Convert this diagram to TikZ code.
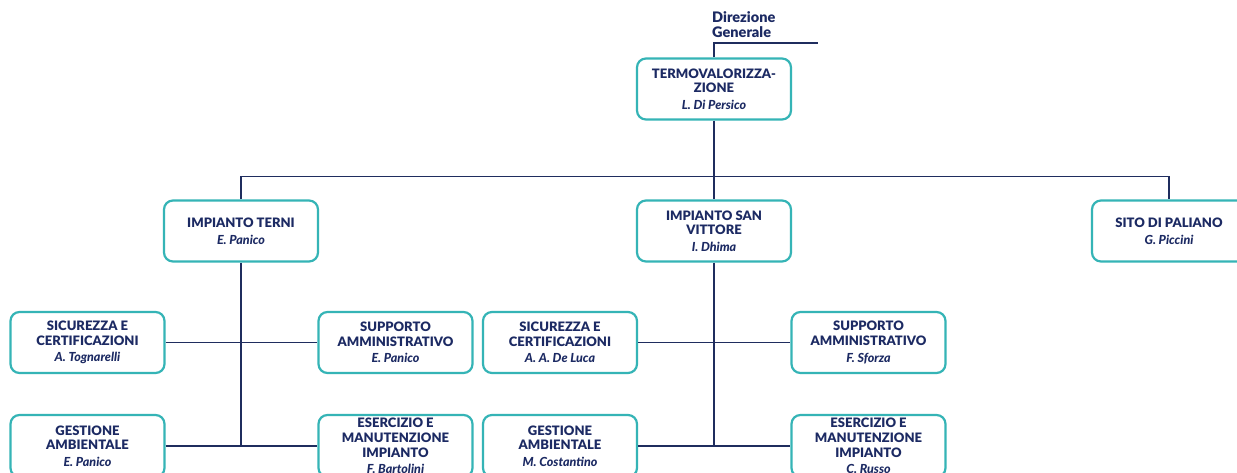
\documentclass[tikz,border=0pt]{standalone}
\usepackage{fontspec}
\setmainfont{Lato}[BoldFont={Lato Black}, BoldItalicFont={Lato Black Italic}]
\definecolor{boxteal}{HTML}{35B4B6}
\definecolor{navy}{HTML}{1C2A63}
\definecolor{wire}{HTML}{1F2D5E}
\tikzset{
  unit/.style={draw=boxteal, line width=2.2pt, rounded corners=9pt, fill=white,
    minimum width=154pt, minimum height=61pt, inner sep=2pt,
    text=navy, align=center, font=\fontsize{13}{14.6}\selectfont\bfseries},
  wireline/.style={draw=wire, line width=1.6pt},
}
\newcommand{\who}[1]{\\[2pt]{\fontsize{12.5}{13}\selectfont\bfseries\itshape #1}}
\begin{document}
\begin{tikzpicture}[x=1pt,y=-1pt]
  \path[use as bounding box, clip] (0,0) rectangle (1237,473);
  \fill[white] (0,0) rectangle (1237,473);

  % top level
  \node[text=navy, font=\fontsize{14.5}{15}\selectfont\bfseries, align=left, anchor=north west, inner sep=0pt]
    (dg) at (712,11) {Direzione\\Generale};
  \coordinate (dgend) at (818,43);
  \node[unit] (termo) at (714,89) {TERMOVALORIZZA-\\ZIONE\who{L. Di Persico}};

  % plants
  \node[unit] (terni) at (241,231) {IMPIANTO TERNI\who{E. Panico}};
  \node[unit] (sanv) at (714,231) {IMPIANTO SAN\\VITTORE\who{I. Dhima}};
  \node[unit] (pal) at (1169,231) {SITO DI PALIANO\who{G. Piccini}};

  % Terni staff
  \node[unit] (sic1) at (87.5,342.5) {SICUREZZA E\\CERTIFICAZIONI\who{A. Tognarelli}};
  \node[unit] (sup1) at (395.5,342.5) {SUPPORTO\\AMMINISTRATIVO\who{E. Panico}};
  \node[unit, minimum height=62pt] (ges1) at (87.5,446) {GESTIONE\\AMBIENTALE\who{E. Panico}};
  \node[unit, minimum height=62pt] (ese1) at (395.5,446) {ESERCIZIO E\\MANUTENZIONE\\IMPIANTO\who{F. Bartolini}};

  % San Vittore staff
  \node[unit] (sic2) at (560,342.5) {SICUREZZA E\\CERTIFICAZIONI\who{A. A. De Luca}};
  \node[unit] (sup2) at (868.5,342.5) {SUPPORTO\\AMMINISTRATIVO\who{F. Sforza}};
  \node[unit, minimum height=62pt] (ges2) at (560,446) {GESTIONE\\AMBIENTALE\who{M. Costantino}};
  \node[unit, minimum height=62pt] (ese2) at (868.5,446) {ESERCIZIO E\\MANUTENZIONE\\IMPIANTO\who{C. Russo}};

  % connectors
  \draw[wireline] (termo.north) |- (dgend);
  \draw[wireline] (termo.south) -- (sanv.north);
  \draw[wireline] (terni.north) -- ++(0,-23) -| (pal.north);

  \draw[wireline] (terni.south) -- (terni.south |- ges1.east);
  \draw[wireline] (sic1.east) -- (sup1.west);
  \draw[wireline] (ges1.east) -- (ese1.west);

  \draw[wireline] (sanv.south) -- (sanv.south |- ges2.east);
  \draw[wireline] (sic2.east) -- (sup2.west);
  \draw[wireline] (ges2.east) -- (ese2.west);
\end{tikzpicture}
\end{document}
